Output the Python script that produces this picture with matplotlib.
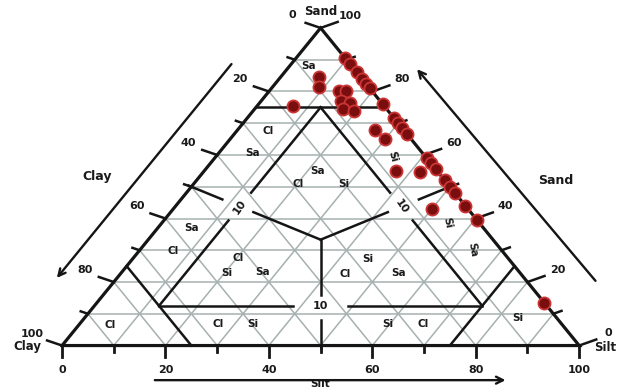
import matplotlib
matplotlib.use("Agg")
import matplotlib.pyplot as plt
import numpy as np

# sample compositions (%)
sand = [90.5, 88.5, 86, 84, 82.5, 81, 76, 71.5, 70, 68.5, 66.5, 59, 57.5, 55.5,
        52, 50, 48, 44, 39.5, 13.5,
        84.5, 81.5, 80, 80, 75.5, 77, 76.5, 74.5, 74, 68, 65, 55, 54.5, 43]
silt = [9.5, 11.5, 14, 16, 17.5, 19, 24, 28.5, 30, 31.5, 33.5, 41, 42.5, 44.5,
        48, 50, 52, 56, 60.5, 86.5,
        7.5, 9, 13.5, 15, 7, 15.5, 17.5, 17, 19.5, 26.5, 30, 37, 42, 50]
clay = [0, 0, 0, 0, 0, 0, 0, 0, 0, 0, 0, 0, 0, 0,
        0, 0, 0, 0, 0, 0,
        8, 9.5, 6.5, 5, 17.5, 7.5, 6, 8.5, 6.5, 5.5, 5, 8, 3.5, 7]

ticks = list(range(0, 101, 10))
major = [0, 20, 40, 60, 80, 100]

# region labels (plot x, plot y, text, rotation)
region_labels = [
    (47.6, 88.0, "Sa", 0), (39.8, 67.6, "Cl", 0), (36.8, 60.6, "Sa", 0),
    (49.5, 55.0, "Sa", 0), (45.6, 50.9, "Cl", 0), (54.4, 50.9, "Si", 0),
    (64.0, 59.4, "Si", -75), (25.1, 37.0, "Sa", 0), (21.5, 29.8, "Cl", 0),
    (34.0, 27.6, "Cl", 0), (31.9, 22.8, "Si", 0), (38.7, 23.1, "Sa", 0),
    (9.3, 6.5, "Cl", 0), (30.2, 6.8, "Cl", 0), (36.8, 6.8, "Si", 0),
    (59.2, 27.2, "Si", 0), (54.7, 22.5, "Cl", 0), (65.0, 22.8, "Sa", 0),
    (74.5, 38.6, "Si", -78), (79.3, 30.1, "Sa", -80), (62.9, 6.8, "Si", 0),
    (69.8, 6.8, "Cl", 0), (88.2, 8.7, "Si", 0),
]


def tern(sa, si):
    # ternary -> plot coords (clay is the rest)
    return si + sa / 2.0, sa


fig = plt.figure(figsize=(6.19, 3.90), dpi=100)
ax = fig.add_axes([0, 0, 1, 1])
ax.set_xlim(-12.0, 107.7)
ax.set_ylim(-14.0, 108.8)
ax.axis("off")

font = dict(family="DejaVu Sans", fontweight="bold", color="#1a1a1a")

# grey grid every 10 %
for v in range(10, 100, 10):
    a = tern(v, 0); b = tern(v, 100 - v)
    ax.plot([a[0], b[0]], [a[1], b[1]], color="#a7b0b0", lw=1.1, zorder=1)
    a = tern(0, v); b = tern(100 - v, v)
    ax.plot([a[0], b[0]], [a[1], b[1]], color="#a7b0b0", lw=1.1, zorder=1)
    a = tern(0, 100 - v); b = tern(100 - v, 0)
    ax.plot([a[0], b[0]], [a[1], b[1]], color="#a7b0b0", lw=1.1, zorder=1)

black = dict(color="#151515", lw=1.8, zorder=2)

# outer triangle
corners = [tern(0, 0), tern(0, 100), tern(100, 0), tern(0, 0)]
ax.plot([c[0] for c in corners], [c[1] for c in corners], color="#151515",
        lw=2.3, zorder=3, solid_joinstyle="miter")


def seg(p, q, t0=0.0, t1=1.0, **kw):
    x = p[0] + (q[0] - p[0]) * np.array([t0, t1])
    y = p[1] + (q[1] - p[1]) * np.array([t0, t1])
    ax.plot(x, y, **kw)


# 75 % corner lines
seg(tern(75, 0), tern(75, 25), **black)
seg(tern(25, 0), tern(0, 25), **black)
seg(tern(0, 75), tern(25, 75), **black)

# inner triangle, broken where the "10" labels sit
A = tern(12.5, 12.5)   # clay corner
B = tern(12.5, 75)     # silt corner
S = tern(75, 12.5)     # sand corner
gap = 0.085
seg(A, B, 0, 0.5 - gap, **black); seg(A, B, 0.5 + gap, 1, **black)
seg(A, S, 0, 0.5 - 0.07, **black); seg(A, S, 0.5 + 0.07, 1, **black)
seg(B, S, 0, 0.5 - 0.07, **black); seg(B, S, 0.5 + 0.07, 1, **black)

# medians from the centre
C = tern(100 / 3, 100 / 3)
for m in [tern(50, 0), tern(50, 50), tern(0, 50)]:
    seg(C, m, 0, 0.52, **black)
    seg(C, m, 0.76, 1.02, **black)

ax.text(50, 12.5, "10", ha="center", va="center", fontsize=8, **font)
mid = (A[0] + (S[0] - A[0]) * 0.5, A[1] + (S[1] - A[1]) * 0.5)
ax.text(mid[0], mid[1], "10", ha="center", va="center", fontsize=8,
        rotation=55, **font)
mid = (B[0] + (S[0] - B[0]) * 0.5, B[1] + (S[1] - B[1]) * 0.5)
ax.text(mid[0], mid[1], "10", ha="center", va="center", fontsize=8,
        rotation=-55, **font)

# ticks and tick labels
for v in ticks:
    big = v in major
    # bottom (silt)
    x, y = tern(0, v)
    ax.plot([x, x], [y, y - (3.5 if big else 1.9)], color="#151515", lw=2, zorder=3)
    if big:
        ax.text(x, y - 7.6, str(v), ha="center", va="center", fontsize=8, **font)
    # left (clay)
    x, y = tern(100 - v, 0)
    f = 1.0 if big else 0.48
    ax.plot([x, x - 2.9 * f], [y, y + 1.6 * f], color="#151515", lw=1.8, zorder=3)
    if big and 0 < v < 100:
        ax.text(x - 5.6, y + 3.8, str(v), ha="center", va="center", fontsize=8, **font)
    # right (sand)
    x, y = tern(v, 100 - v)
    ax.plot([x, x + 3.3 * f], [y, y + 1.9 * f], color="#151515", lw=1.8, zorder=3)
    if big and 0 < v < 100:
        ax.text(x + 5.8, y + 3.8, str(v), ha="center", va="center", fontsize=8, **font)

# corner labels
ax.text(-5.8, 3.6, "100", ha="center", va="center", fontsize=8, **font)
ax.text(-6.8, -0.2, "Clay", ha="center", va="center", fontsize=8.5, **font)
ax.text(105.6, 3.9, "0", ha="center", va="center", fontsize=8, **font)
ax.text(102.9, -0.5, "Silt", ha="left", va="center", fontsize=8.5, **font)
ax.text(44.6, 104.2, "0", ha="center", va="center", fontsize=8, **font)
ax.text(55.8, 103.9, "100", ha="center", va="center", fontsize=8, **font)
ax.text(50, 105.3, "Sand", ha="center", va="center", fontsize=8.5, **font)

# axis names and arrows
ax.text(6.8, 53.1, "Clay", ha="center", va="center", fontsize=9, **font)
ax.text(95.4, 52.1, "Sand", ha="center", va="center", fontsize=9, **font)
ax.text(49.9, -13.8, "Silt", ha="center", va="bottom", fontsize=7.5, **font)
arrow = dict(arrowstyle="->,head_length=0.5,head_width=0.25", lw=1.7, color="#151515")
ax.annotate("", xy=(-1.35, 20.6), xytext=(33.1, 89.3), arrowprops=arrow)
ax.annotate("", xy=(68.3, 87.7), xytext=(103.5, 19.7), arrowprops=arrow)
ax.annotate("", xy=(86.3, -10.9), xytext=(17.4, -10.9), arrowprops=arrow)

for x, y, t, r in region_labels:
    ax.text(x, y, t, ha="center", va="center", fontsize=7.5, rotation=r, **font)

# samples
px = [si + sa / 2.0 for sa, si in zip(sand, silt)]
ax.scatter(px, sand, s=76, facecolor="#7a0e0e", edgecolor="#cc3535",
           linewidth=1.3, zorder=5)

fig.savefig("out.png", dpi=100)
